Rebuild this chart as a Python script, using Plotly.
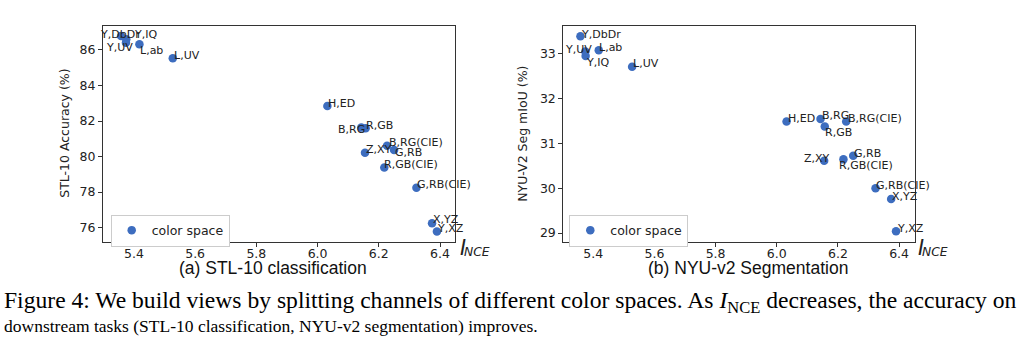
import plotly.graph_objects as go

W, H = 1024, 354

# ---------------- data ----------------
spaces = ["Y,DbDr", "Y,IQ", "Y,UV", "L,ab", "L,UV", "H,ED", "B,RG", "R,GB",
          "B,RG(CIE)", "G,RB", "Z,XY", "R,GB(CIE)", "G,RB(CIE)", "X,YZ", "Y,XZ"]
i_nce = [5.358, 5.375, 5.374, 5.418, 5.527, 6.032, 6.143, 6.157,
         6.227, 6.250, 6.155, 6.218, 6.323, 6.374, 6.390]
stl_acc = [86.79, 86.60, 86.41, 86.32, 85.53, 82.85, 81.63, 81.59,
           80.61, 80.37, 80.22, 79.38, 78.25, 76.25, 75.78]
nyu_miou = [33.38, 32.94, 33.04, 33.07, 32.70, 31.48, 31.54, 31.37,
            31.48, 30.72, 30.61, 30.64, 30.00, 29.76, 29.04]

x_ticks = [5.4, 5.6, 5.8, 6.0, 6.2, 6.4]
stl_ticks = [76, 78, 80, 82, 84, 86]
nyu_ticks = [29, 30, 31, 32, 33]

# ---------------- label placement (style) ----------------
left_lab = {
    "Y,DbDr": ("left", -21.4, 1.7), "Y,IQ": ("left", 7.6, 5), "Y,UV": ("right", 6.7, -5),
    "L,ab": ("left", 0.7, -6.4), "L,UV": ("left", 1.3, 3.3), "H,ED": ("left", 1, 2.7),
    "B,RG": ("right", 3.3, -1.6), "R,GB": ("left", 0, 2.6), "B,RG(CIE)": ("left", 1.6, 3.4),
    "G,RB": ("left", 1, -2.3), "Z,XY": ("left", 0.7, 2.7), "R,GB(CIE)": ("left", 0, 2.7),
    "G,RB(CIE)": ("left", 0.7, 2.7), "X,YZ": ("left", 1, 3.3), "Y,XZ": ("left", 0.3, 3.4),
}
right_lab = {
    "Y,DbDr": ("left", 0.7, 2), "Y,UV": ("right", 6.7, 2.4), "Y,IQ": ("left", 0, -6.3),
    "L,ab": ("left", 0.3, 2.3), "L,UV": ("left", 0.6, 3.4), "H,ED": ("left", 1, 3.4),
    "B,RG": ("left", 1.7, 3.3), "R,GB": ("left", 0.7, -6), "B,RG(CIE)": ("left", 1.6, 2.7),
    "Z,XY": ("right", 5.7, 2.7), "R,GB(CIE)": ("left", -4.7, -5.7), "G,RB": ("left", 0.7, 2.7),
    "G,RB(CIE)": ("left", 0.7, 2.6), "X,YZ": ("left", 1, 2.6), "Y,XZ": ("left", 0.7, 3),
}

DOT = "#3d6dbf"
INK = "#222222"
AX = "#333333"
SANS = "DejaVu Sans"


def px(x):
    return x / W


def py(y):
    return 1 - y / H


fig = go.Figure()
fig.add_trace(go.Scatter(x=i_nce, y=stl_acc, mode="markers", name="color space",
                         marker=dict(color=DOT, size=8.5), xaxis="x", yaxis="y",
                         legend="legend", hoverinfo="skip"))
fig.add_trace(go.Scatter(x=i_nce, y=nyu_miou, mode="markers", name="color space",
                         marker=dict(color=DOT, size=8.5), xaxis="x2", yaxis="y2",
                         legend="legend2", hoverinfo="skip"))

ann = []
for name, xv, yv in zip(spaces, i_nce, stl_acc):
    a, dx, dy = left_lab[name]
    ann.append(dict(x=xv, y=yv, xref="x", yref="y", text=name, showarrow=False,
                    xanchor=a, yanchor="middle", xshift=dx, yshift=dy,
                    borderpad=0, borderwidth=0, font=dict(family=SANS, size=11, color=INK)))
for name, xv, yv in zip(spaces, i_nce, nyu_miou):
    a, dx, dy = right_lab[name]
    ann.append(dict(x=xv, y=yv, xref="x2", yref="y2", text=name, showarrow=False,
                    xanchor=a, yanchor="middle", xshift=dx, yshift=dy,
                    borderpad=0, borderwidth=0, font=dict(family=SANS, size=11, color=INK)))


def paper_text(x, y, text, size, family=SANS, xanchor="center", angle=0, color=INK):
    ann.append(dict(x=px(x), y=py(y), xref="paper", yref="paper", text=text, showarrow=False,
                    xanchor=xanchor, yanchor="middle", textangle=angle, borderpad=0,
                    font=dict(family=family, size=size, color=color)))


# axis titles
paper_text(65, 133.8, "STL-10 Accuracy (%)", 12.5, angle=-90)
paper_text(523, 133.8, "NYU-V2 Seg mIoU (%)", 12.5, angle=-90)
for xi in (459, 917):
    paper_text(xi, 248, "<i>I</i>", 20.5, xanchor="left")
    paper_text(xi + 4, 251.7, "<i>NCE</i>", 12.3, xanchor="left")

# subplot captions
paper_text(272.5, 267.5, "(a) STL-10 classification", 17.5, family="Liberation Sans", color="#111111")
paper_text(748, 267.5, "(b) NYU-v2 Segmentation", 17.5, family="Liberation Sans", color="#111111")

# figure caption
SERIF = "Liberation Serif"
paper_text(3, 302, "Figure 4: We build views by splitting channels of different color spaces. "
                   "As <i>I</i><sub>NCE</sub> decreases, the accuracy on",
           23.6, family=SERIF, xanchor="left", color="#000000")
paper_text(3, 326, "downstream tasks (STL-10 classification, NYU-v2 segmentation) improves.",
           17.5, family=SERIF, xanchor="left", color="#000000")

ydom = [py(241.5), py(26)]
axis_common = dict(showline=True, mirror=True, linecolor=AX, linewidth=1, ticks="outside",
                   ticklen=4, tickcolor=AX, tickwidth=1, showgrid=False, zeroline=False,
                   tickfont=dict(family=SANS, size=12.5, color=INK), automargin=False)

legend_common = dict(bgcolor="white", bordercolor="#cccccc", borderwidth=1,
                     font=dict(family=SANS, size=12.5, color=INK), xanchor="left",
                     yanchor="top", itemsizing="trace")

fig.update_layout(
    width=W, height=H, margin=dict(l=0, r=0, t=0, b=0),
    paper_bgcolor="white", plot_bgcolor="white", showlegend=True,
    xaxis=dict(domain=[px(103), px(455)], range=[5.299, 6.449], tickvals=x_ticks,
               tickformat=".1f", anchor="y", ticklabelstandoff=-4, **axis_common),
    yaxis=dict(domain=ydom, range=[75.22, 87.35], tickvals=stl_ticks, anchor="x", **axis_common),
    xaxis2=dict(domain=[px(563.3), px(915)], range=[5.302, 6.452], tickvals=x_ticks,
                tickformat=".1f", anchor="y2", ticklabelstandoff=-4, **axis_common),
    yaxis2=dict(domain=ydom, range=[28.813, 33.607], tickvals=nyu_ticks, anchor="x2", **axis_common),
    legend=dict(x=px(110.7), y=py(214.5), **legend_common),
    legend2=dict(x=px(569.3), y=py(214.5), **legend_common),
    annotations=ann,
)

fig.write_html("out.html")
